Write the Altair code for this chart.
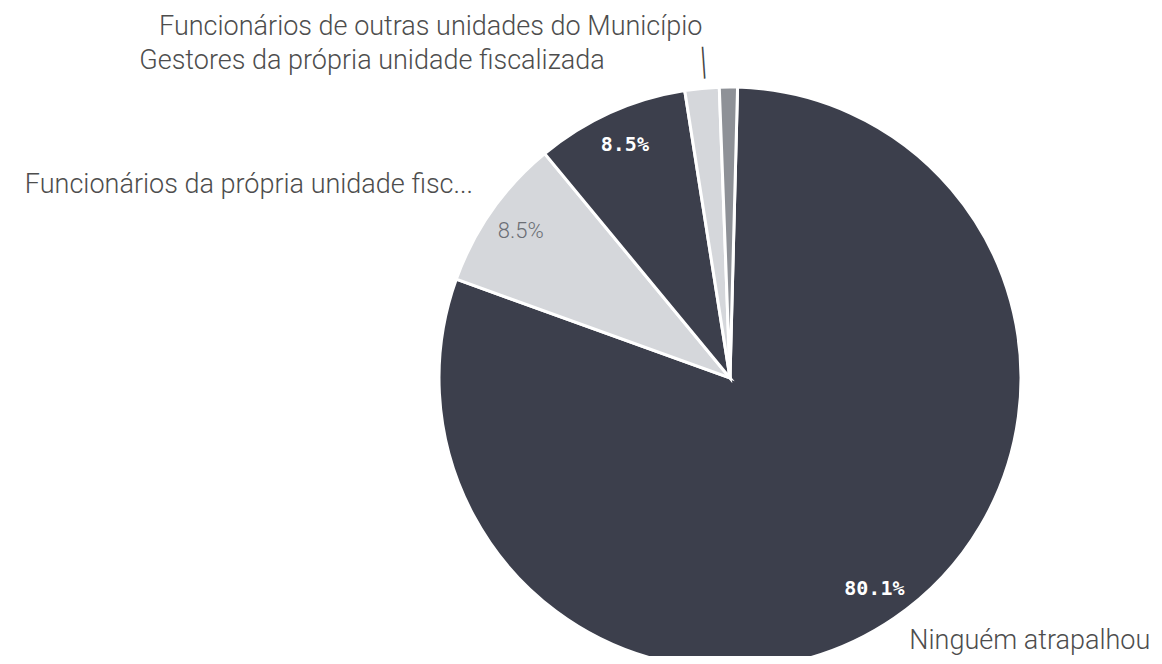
import math
import altair as alt
import pandas as pd

categories = [
    "Ninguém atrapalhou",
    "Funcionários da própria unidade fiscalizada",
    "Gestores da própria unidade fiscalizada",
    "Funcionários de outras unidades do Município",
    "Outros",
]
values = [80.1, 8.5, 8.5, 1.9, 1.0]
display_labels = [
    "Ninguém atrapalhou",
    "Funcionários da própria unidade fisc...",
    "Gestores da própria unidade fiscalizada",
    "Funcionários de outras unidades do Município",
    "",
]
pct_labels = ["80.1%", "8.5%", "8.5%", "", ""]
colors = ["#3c3f4c", "#d5d7db", "#3c3f4c", "#d5d7db", "#8e9197"]

df = pd.DataFrame({
    "category": categories,
    "value": values,
    "label": display_labels,
    "pct": pct_labels,
    "order": list(range(len(categories))),
})

CX, CY, R = 722, 370, 291
ROT = 0.026

theta_enc = alt.Theta("value:Q", stack=True,
                      scale=alt.Scale(range=[ROT, ROT + 2 * math.pi]))
base = alt.Chart(df).encode(
    theta=theta_enc,
    order=alt.Order("order:Q", sort="ascending"),
    detail="category:N",
    x=alt.value(CX),
    y=alt.value(CY),
)

pie = base.mark_arc(outerRadius=R, stroke="white", strokeWidth=3).encode(
    color=alt.Color("category:N",
                    scale=alt.Scale(domain=categories, range=colors),
                    legend=None)
)

LBL_FONT = "Roboto"
LBL_COLOR = "#4d4d4d"
LBL_SIZE = 27


def outer_label(i, radius, align, dx=0, dy=0):
    return base.transform_calculate(
        t=f"datum.order == {i} ? datum.label : ''"
    ).mark_text(
        radius=radius, align=align, baseline="middle", dx=dx, dy=dy,
        font=LBL_FONT, fontSize=LBL_SIZE, fontWeight=300, color=LBL_COLOR,
    ).encode(text="t:N")


lab0 = outer_label(0, 318, "left", 0, 0)
lab1 = outer_label(1, 312, "right", -2, -13)
lab2 = outer_label(2, 356, "right", 21, 8)
lab3 = outer_label(3, 358, "right", 7, 5)

leader = base.transform_calculate(
    t="datum.order == 3 ? '|' : ''"
).mark_text(
    radius=318, angle=356, baseline="middle", align="center", dx=4,
    font="DejaVu Sans", fontSize=32, fontWeight=200, color="#444444",
).encode(text="t:N")

pct_dark = base.transform_calculate(
    t="(datum.order == 0 || datum.order == 2) ? datum.pct : ''"
).mark_text(
    radius=256, align="center", baseline="middle",
    font="DejaVu Sans Mono", fontSize=20, fontWeight="bold", color="#ffffff",
).encode(text="t:N")

pct_light = base.transform_calculate(
    t="datum.order == 1 ? datum.pct : ''"
).mark_text(
    radius=256, align="center", baseline="middle",
    font=LBL_FONT, fontSize=22, fontWeight=300, color="#6b6e75",
).encode(text="t:N")

chart = alt.layer(
    pie, pct_dark, pct_light, lab0, lab1, lab2, lab3, leader
).properties(
    width=1146, height=648,
    autosize=alt.AutoSizeParams(type="none"),
    padding=0,
).configure_view(stroke=None)

chart.save("out.html", embed_options={"renderer": "svg", "actions": False})
